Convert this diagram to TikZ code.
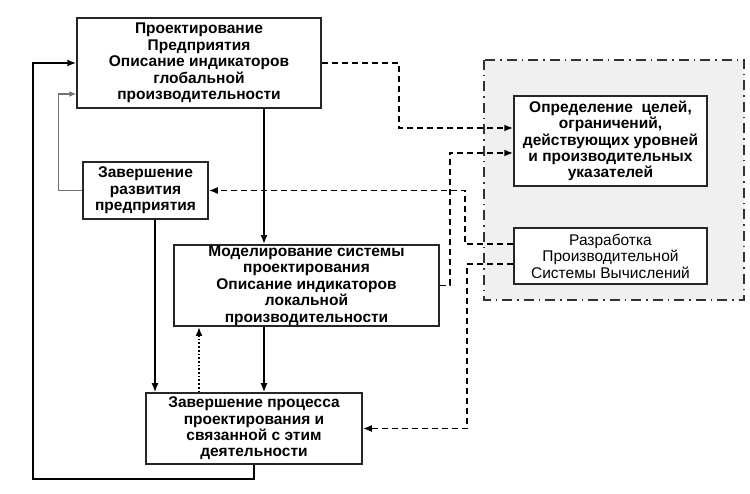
\documentclass[tikz,border=0pt]{standalone}
\usepackage{fontspec}
\setmainfont{Liberation Sans}
\usetikzlibrary{arrows.meta}

\tikzset{
  blk/.style={draw=black!85, line width=1.5pt, fill=white, align=center, inner sep=1pt,
    font=\bfseries\fontsize{15.5}{16.4}\selectfont},
  flow/.style={line width=1.7pt, -{Latex[length=9pt,width=7pt]}},
  dflow/.style={line width=1.9pt, dash pattern=on 6pt off 4pt, -{Latex[length=9pt,width=7pt]}},
}

\begin{document}
\begin{tikzpicture}[x=1pt,y=-1pt]
	\useasboundingbox (0,0) rectangle (750,494);

	% region of the computing system
	\fill[black!6] (484,60) rectangle (744,300);
	\draw[black!80, line width=2.2pt, dash pattern=on 10pt off 5pt on 1.5pt off 5pt] (484,60) rectangle (744,300);

	\node[blk, minimum width=244pt, minimum height=90pt] (proj) at (199,63)
		{Проектирование\\Предприятия\\Описание индикаторов\\глобальной\\производительности};
	\node[blk, minimum width=125pt, minimum height=57pt] (razv) at (145.5,190.5)
		{Завершение\\развития\\предприятия};
	\node[blk, minimum width=265pt, minimum height=81pt] (model) at (306.5,285.5)
		{Моделирование системы\\проектирования\\Описание индикаторов\\локальной\\производительности};
	\node[blk, minimum width=216pt, minimum height=71pt] (zav) at (254,428.5)
		{Завершение процесса\\проектирования и\\связанной с этим\\деятельности};
	\node[blk, minimum width=193pt, minimum height=90pt] (opr) at (610.5,141)
		{Определение \ целей,\\ограничений,\\действующих уровней\\и производительных\\указателей};
	\node[blk, minimum width=193pt, minimum height=56pt] (razr) at (610.5,256)
		{\mdseries Разработка\\\mdseries Производительной\\\mdseries Системы Вычислений};

	\coordinate (xa) at (264,0);
	\coordinate (xb) at (155,0);
	\coordinate (xc) at (199,0);
	\coordinate (xd) at (254,0);

	\draw[flow] (proj.south -| xa) -- (model.north -| xa);
	\draw[flow] (model.south -| xa) -- (zav.north -| xa);
	\draw[flow] (razv.south -| xb) -- (zav.north -| xb);
	\draw[line width=1.7pt, dotted, -{Latex[length=9pt,width=7pt]}] (zav.north -| xc) -- (model.south -| xc);

	% feedback loops
	\draw[flow] (zav.south -| xd) -- ++(0,14) -| ([xshift=-43pt]proj.west) -- (proj.west);
	\draw[black!55, line width=1.1pt, -{Latex[length=7pt,width=6pt]}] (razv.west) -- ++(-24,0) |- ([yshift=-31pt]proj.west);

	% links to the computing system
	\draw[dflow] (proj.east) -- ++(77,0) |- ([yshift=13pt]opr.west);
	\draw[dflow] (model.east) -- ++(10,0) |- ([yshift=-12pt]opr.west);
	\draw[dflow] ([yshift=12pt]razr.west) -- ++(-48,0) |- (razv.east);
	\draw[dflow] ([yshift=-8pt]razr.west) -- ++(-46,0) |- (zav.east);
\end{tikzpicture}
\end{document}
